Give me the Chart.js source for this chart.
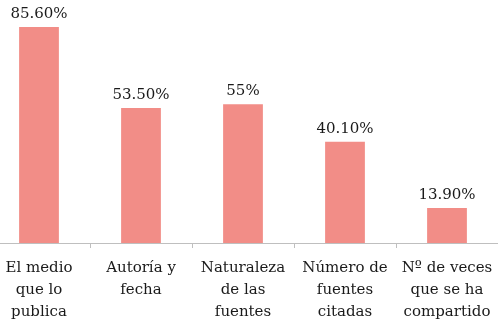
<!doctype html>
<html lang="es">
  <head>
    <meta charset="utf-8">
    <title>Criterios</title>
    <style>
      * { margin: 0; padding: 0; }
      body { width: 500px; height: 322px; overflow: hidden; background: #fff; position: relative; }
      .chartBox { position: absolute; left: -12px; top: 0; width: 510px; height: 322px; }
    </style>
  </head>
  <body>
    <div class="chartBox">
      <canvas id="myChart"></canvas>
    </div>
    <script src="https://cdn.jsdelivr.net/npm/chart.js/dist/chart.umd.min.js"></script>
    <script>
// data
const categories = [
  ['El medio', 'que lo', 'publica'],
  ['Autoría y', 'fecha'],
  ['Naturaleza', 'de las', 'fuentes'],
  ['Número de', 'fuentes', 'citadas'],
  ['Nº de veces', 'que se ha', 'compartido']
];
const values = [85.6, 53.5, 55, 40.1, 13.9];
const valueLabels = ['85.60%', '53.50%', '55%', '40.10%', '13.90%'];

const serif = '"DejaVu Serif", serif';

// labels above the bars
const valueLabelPlugin = {
  id: 'valueLabels',
  afterDatasetsDraw(chart) {
    const ctx = chart.ctx;
    const meta = chart.getDatasetMeta(0);
    ctx.save();
    ctx.font = '15px ' + serif;
    ctx.fillStyle = '#1a1a1a';
    ctx.textAlign = 'center';
    ctx.textBaseline = 'alphabetic';
    meta.data.forEach((bar, i) => {
      ctx.fillText(valueLabels[i], bar.x, bar.y - 9);
    });
    ctx.restore();
  }
};

const config = {
  type: 'bar',
  data: {
    labels: categories,
    datasets: [{
      data: values,
      backgroundColor: 'rgb(242, 141, 135)',
      borderWidth: 0,
      categoryPercentage: 1,
      barPercentage: 0.39
    }]
  },
  options: {
    responsive: true,
    maintainAspectRatio: false,
    animation: false,
    layout: { padding: { top: 16, left: 0, right: 0, bottom: 0 } },
    plugins: {
      legend: { display: false },
      tooltip: { enabled: false }
    },
    scales: {
      y: { display: false, min: 0, max: 90 },
      x: {
        afterFit(scale) {
          scale.height = 79;
          scale.paddingLeft = 0;
          scale.paddingRight = 0;
        },
        border: { display: true, color: '#bfbfbf', width: 1 },
        grid: {
          offset: true,
          drawOnChartArea: false,
          drawTicks: true,
          tickLength: 5,
          color: '#bfbfbf'
        },
        ticks: {
          maxRotation: 0,
          autoSkip: false,
          padding: 9,
          color: '#1a1a1a',
          font: { family: serif, size: 15, lineHeight: 1.47 }
        }
      }
    }
  },
  plugins: [valueLabelPlugin]
};

new Chart(document.getElementById('myChart'), config);
    </script>
  </body>
</html>
